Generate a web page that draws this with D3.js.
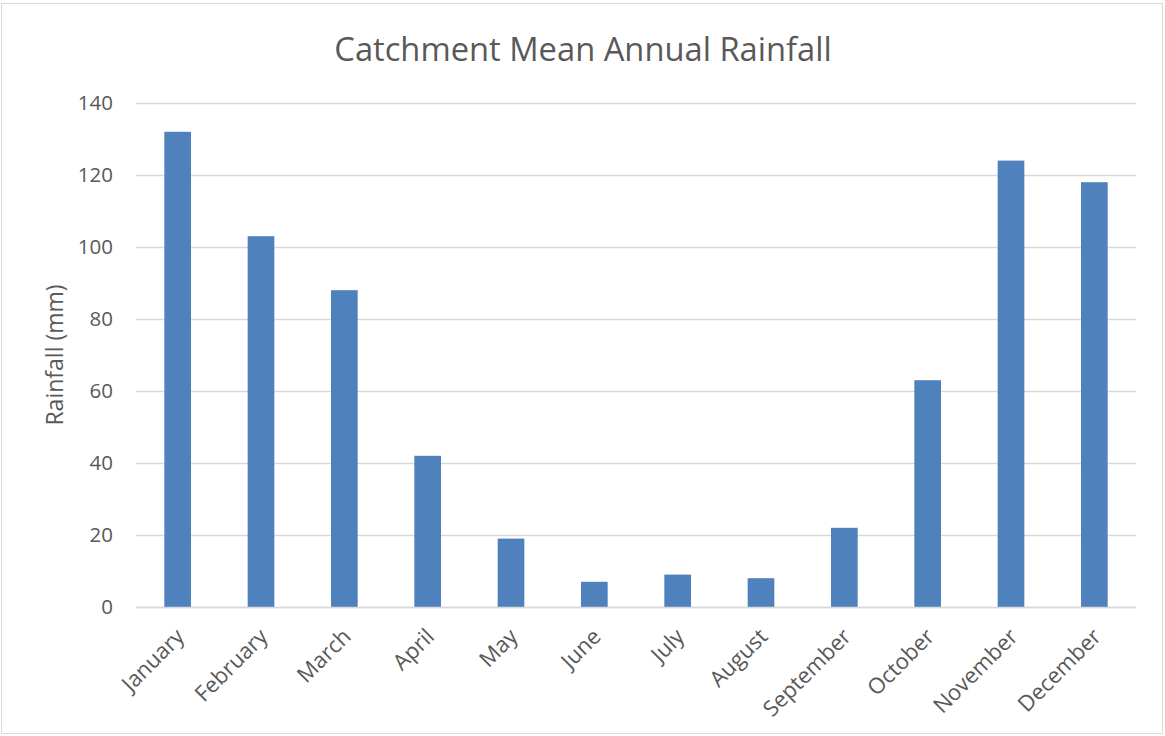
<!DOCTYPE html>
<html>
<head>
<meta charset="utf-8">
<script src="https://cdn.jsdelivr.net/npm/d3@7"></script>
<style>
  html, body { margin: 0; padding: 0; background: #fff; }
  svg { display: block; }
  text { font-family: "Open Sans", "Liberation Sans", sans-serif; fill: #595959; }
</style>
</head>
<body>
<svg id="chart" width="1165" height="736"></svg>
<script>
// Monthly catchment rainfall (mm)
const months = ["January", "February", "March", "April", "May", "June",
                "July", "August", "September", "October", "November", "December"];
const rainfall = [132, 103, 88, 42, 19, 7, 9, 8, 22, 63, 124, 118];
const yTicks = [0, 20, 40, 60, 80, 100, 120, 140];

const svg = d3.select("#chart");
const W = 1165, H = 736;
const margin = { left: 136, right: 29, top: 103, bottom: 129 };
const plotW = W - margin.left - margin.right;
const plotH = H - margin.top - margin.bottom;

// outer frame
svg.append("rect")
  .attr("x", 1.5).attr("y", 3.5)
  .attr("width", W - 4).attr("height", H - 6)
  .attr("fill", "#fff").attr("stroke", "#d9d9d9").attr("stroke-width", 1);

svg.append("text")
  .attr("x", 583).attr("y", 61)
  .attr("text-anchor", "middle")
  .style("font-size", "32.7px")
  .text("Catchment Mean Annual Rainfall");

const g = svg.append("g").attr("transform", `translate(${margin.left},${margin.top})`);

const x = d3.scaleBand().domain(months).range([0, plotW]).paddingInner(0.68).paddingOuter(0.34);
const y = d3.scaleLinear().domain([0, 140]).range([plotH, 0]);

// horizontal gridlines + y labels
const yAxis = d3.axisLeft(y).tickValues(yTicks).tickSize(-plotW).tickPadding(23);
g.append("g").call(yAxis)
  .call(a => a.select(".domain").remove())
  .call(a => a.selectAll(".tick line").attr("stroke", "#d9d9d9").attr("stroke-width", 1.3))
  .call(a => a.selectAll(".tick text").style("font-size", "20.5px").attr("fill", "#595959"));

// bars
g.selectAll("rect.bar").data(months).join("rect")
  .attr("class", "bar")
  .attr("x", d => x(d))
  .attr("width", x.bandwidth())
  .attr("y", (d, i) => y(rainfall[i]))
  .attr("height", (d, i) => plotH - y(rainfall[i]))
  .attr("fill", "#4f81bd");

// baseline
g.append("line").attr("x1", 0).attr("x2", plotW).attr("y1", plotH + 0.5).attr("y2", plotH + 0.5)
  .attr("stroke", "#d9d9d9").attr("stroke-width", 1.5);

// rotated month labels
g.selectAll("text.month").data(months).join("text")
  .attr("class", "month")
  .attr("text-anchor", "end")
  .attr("transform", d => `translate(${x(d) + x.bandwidth() / 2 + 8},${plotH + 31}) rotate(-45)`)
  .style("font-size", "22px")
  .text(d => d);

// y axis title
svg.append("text")
  .attr("transform", `translate(63,${margin.top + plotH / 2}) rotate(-90)`)
  .attr("text-anchor", "middle")
  .style("font-size", "23px")
  .text("Rainfall (mm)");
</script>
</body>
</html>
